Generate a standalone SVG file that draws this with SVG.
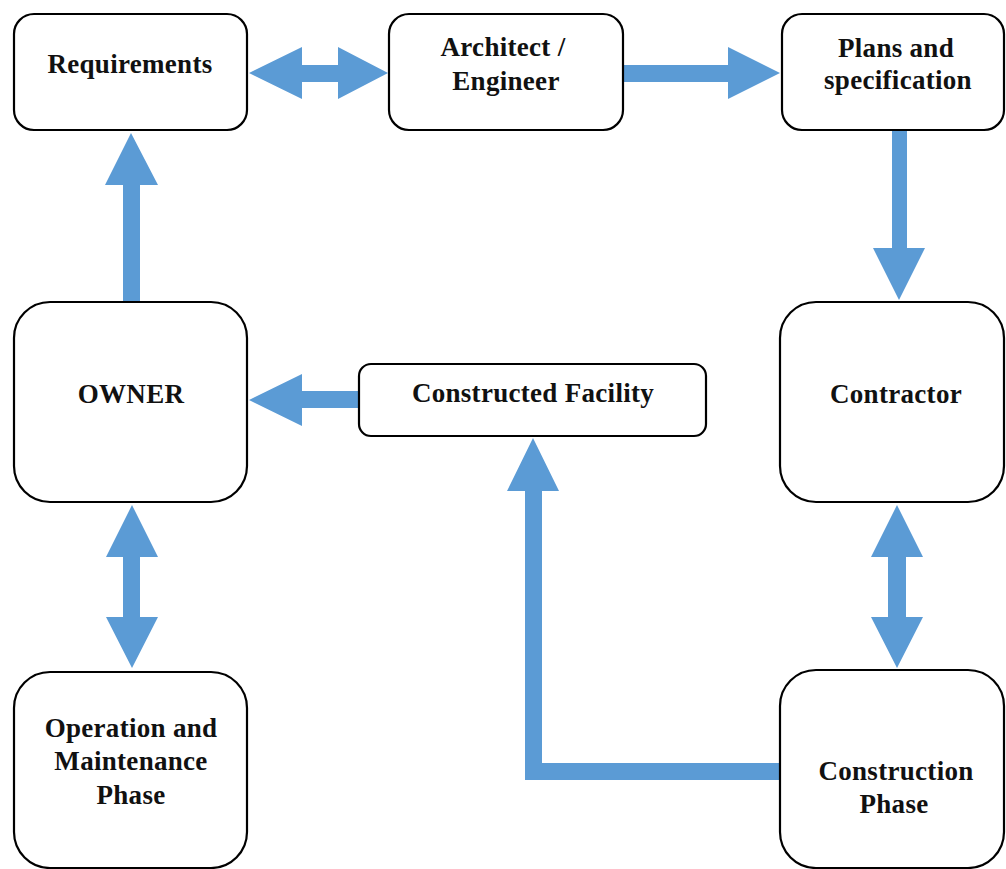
<svg xmlns="http://www.w3.org/2000/svg" width="1006" height="869" viewBox="0 0 1006 869">
<style>
.box{fill:#fff;stroke:#000;stroke-width:2.2}
.lbl{font-family:"Liberation Serif","Times New Roman",serif;font-weight:bold;font-size:27px;fill:#111;text-anchor:middle;letter-spacing:0.3px}
.arr{fill:#5b9bd5}
</style>
<rect width="1006" height="869" fill="#fff"/>
<g id="connectors">
<polygon class="arr" points="249,73 302,47 302,65 338,65 338,47 388,73 338,99 338,82 302,82 302,99"/>
<polygon class="arr" points="623,65 728,65 728,47 780,73 728,99 728,82 623,82"/>
<polygon class="arr" points="892,130 907,130 907,248 925,248 899,300 873,248 892,248"/>
<polygon class="arr" points="123,302 123,185 105,185 131,133 158,185 140,185 140,302"/>
<polygon class="arr" points="359,391 302,391 302,374 249,400 302,426 302,408 359,408"/>
<polygon class="arr" points="132,505 158,557 140,557 140,617 158,617 132,668 106,617 123,617 123,557 106,557"/>
<polygon class="arr" points="897,505 923,557 906,557 906,617 923,617 897,668 871,617 888,617 888,557 871,557"/>
<polygon class="arr" points="780,763 780,780 525,780 525,491 507,491 533,438 559,491 542,491 542,763"/>
</g>
<g id="requirements">
<rect class="box" x="14" y="14" width="233" height="116" rx="20"/>
<text class="lbl" x="130" y="73">Requirements</text>
</g>
<g id="architect">
<rect class="box" x="389" y="14" width="234" height="116" rx="20"/>
<text class="lbl" x="503" y="56">Architect /</text>
<text class="lbl" x="506" y="90">Engineer</text>
</g>
<g id="plans">
<rect class="box" x="782" y="14" width="222" height="116" rx="20"/>
<text class="lbl" x="896" y="57">Plans and</text>
<text class="lbl" x="898" y="89">specification</text>
</g>
<g id="owner">
<rect class="box" x="14" y="302" width="233" height="200" rx="36"/>
<text class="lbl" x="131" y="403">OWNER</text>
</g>
<g id="facility">
<rect class="box" x="359" y="364" width="347" height="72" rx="12"/>
<text class="lbl" x="533" y="402">Constructed Facility</text>
</g>
<g id="contractor">
<rect class="box" x="780" y="302" width="224" height="200" rx="36"/>
<text class="lbl" x="896" y="403">Contractor</text>
</g>
<g id="operation">
<rect class="box" x="14" y="672" width="233" height="196" rx="36"/>
<text class="lbl" x="131" y="737">Operation and</text>
<text class="lbl" x="131" y="770">Maintenance</text>
<text class="lbl" x="131" y="804">Phase</text>
</g>
<g id="construction">
<rect class="box" x="780" y="670" width="224" height="198" rx="36"/>
<text class="lbl" x="896" y="780">Construction</text>
<text class="lbl" x="894" y="813">Phase</text>
</g>
</svg>
